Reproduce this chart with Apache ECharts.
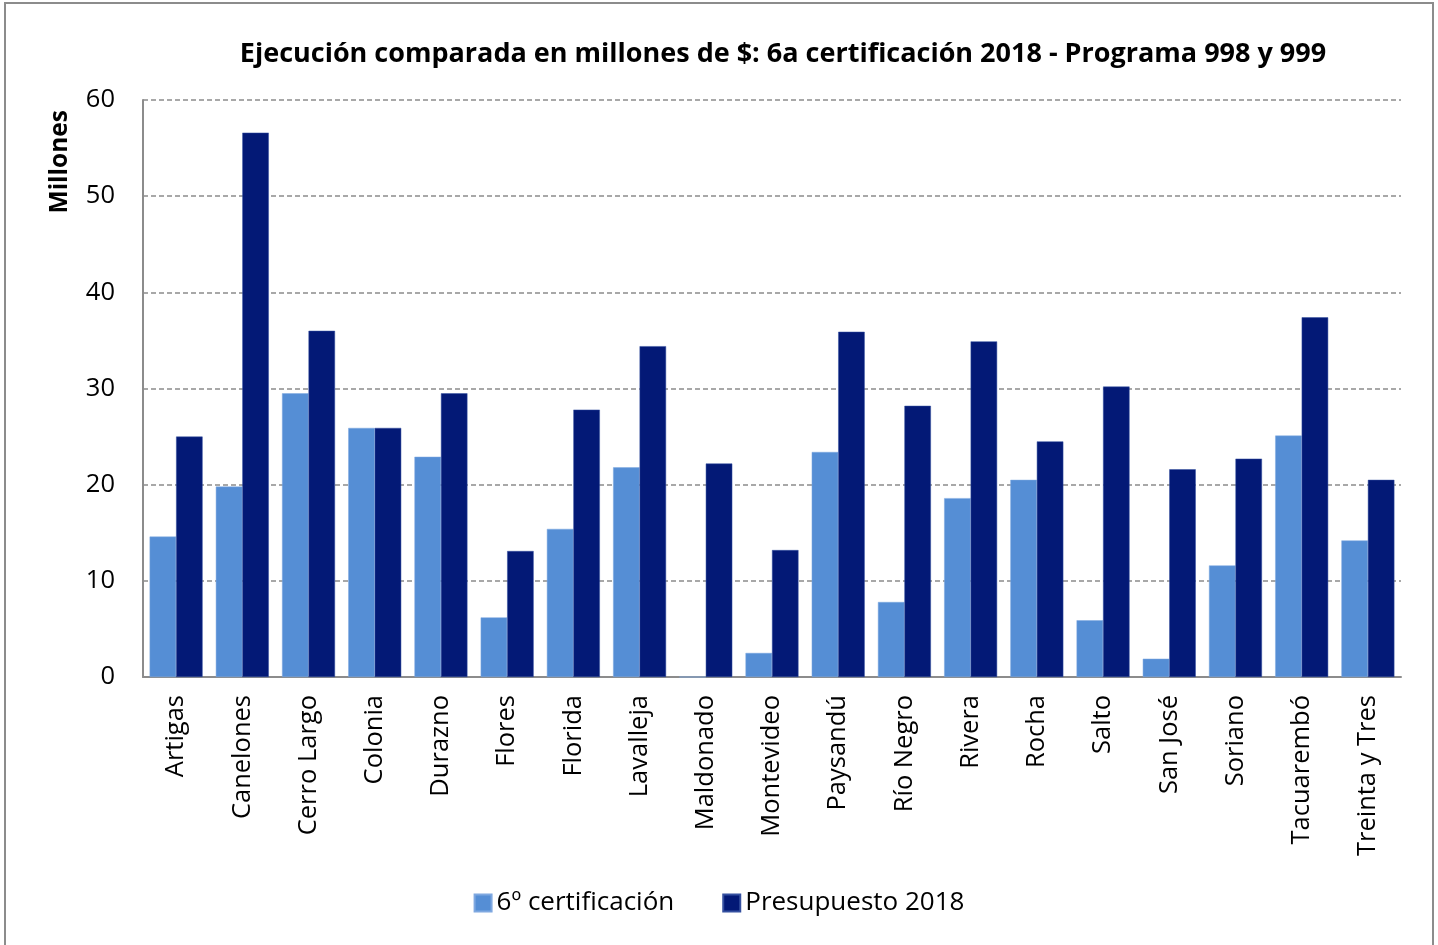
<!DOCTYPE html>
<html>
<head>
<meta charset="utf-8">
<script src="https://cdn.jsdelivr.net/npm/echarts@6/dist/echarts.min.js"></script>
<style>
  html, body { margin: 0; padding: 0; background: #fff; }
  #main { width: 1438px; height: 945px; }
</style>
</head>
<body>
<div id="main"></div>
<script>
// departamentos
var categories = ['Artigas', 'Canelones', 'Cerro Largo', 'Colonia', 'Durazno', 'Flores', 'Florida',
  'Lavalleja', 'Maldonado', 'Montevideo', 'Paysandú', 'Río Negro', 'Rivera', 'Rocha', 'Salto',
  'San José', 'Soriano', 'Tacuarembó', 'Treinta y Tres'];

// 6º certificación (millones)
var certificacion = [14.6, 19.8, 29.5, 25.9, 22.9, 6.2, 15.4, 21.8, 0, 2.5, 23.4, 7.8, 18.6, 20.5, 5.9, 1.9, 11.6, 25.1, 14.2];

// Presupuesto 2018 (millones)
var presupuesto = [25.0, 56.6, 36.0, 25.9, 29.5, 13.1, 27.8, 34.4, 22.2, 13.2, 35.9, 28.2, 34.9, 24.5, 30.2, 21.6, 22.7, 37.4, 20.5];

var yTicks = [0, 10, 20, 30, 40, 50, 60];

var font = '"Open Sans", "Noto Sans", sans-serif';

var chart = echarts.init(document.getElementById('main'), null, { renderer: 'canvas' });

var option = {
  backgroundColor: '#ffffff',
  animation: false,
  color: ['#558ED5', '#031976'],
  title: {
    text: 'Ejecución comparada en millones de $: 6a certificación 2018 - Programa 998 y 999',
    left: 778,
    top: 36,
    textAlign: 'center',
    textStyle: { fontFamily: font, fontSize: 27, fontWeight: 'bold', color: '#000' }
  },
  legend: {
    bottom: 24,
    left: 'center',
    itemWidth: 17,
    itemHeight: 17,
    itemGap: 48,
    icon: 'rect',
    textStyle: { fontFamily: font, fontSize: 26, color: '#000' },
    data: ['6º certificación', 'Presupuesto 2018']
  },
  grid: { left: 143, right: 37, top: 100, bottom: 268 },
  xAxis: {
    type: 'category',
    data: categories,
    axisLine: { lineStyle: { color: '#8c8c8c', width: 2 } },
    axisTick: { show: false },
    axisLabel: {
      rotate: 90,
      interval: 0,
      margin: 18,
      fontFamily: font,
      fontSize: 25.5,
      color: '#000'
    }
  },
  yAxis: {
    type: 'value',
    min: 0,
    max: 60,
    interval: 10,
    name: 'Millones',
    nameLocation: 'end',
    nameRotate: 90,
    nameGap: 0,
    nameTextStyle: {
      fontFamily: font, fontSize: 24.5, fontWeight: 'bold', color: '#000',
      align: 'right', verticalAlign: 'bottom', padding: [0, 10, 70, 0]
    },
    axisLine: { show: true, lineStyle: { color: '#8c8c8c', width: 2 } },
    axisTick: { show: false },
    axisLabel: {
      margin: 28,
      fontFamily: font,
      fontSize: 25.5,
      color: '#000',
      formatter: function (v) { return yTicks.indexOf(v) >= 0 ? String(v) : ''; }
    },
    splitLine: { lineStyle: { color: '#8c8c8c', type: [5, 3], width: 1.5 } }
  },
  series: [
    {
      name: '6º certificación',
      type: 'bar',
      data: certificacion,
      barGap: '0%',
      barCategoryGap: '20%',
      itemStyle: { borderColor: '#7fa8e0', borderWidth: 0.5 }
    },
    {
      name: 'Presupuesto 2018',
      type: 'bar',
      data: presupuesto,
      barGap: '0%',
      barCategoryGap: '20%',
      itemStyle: { borderColor: '#3550a0', borderWidth: 0.5 }
    }
  ],
  graphic: [{
    type: 'rect',
    shape: { x: 5, y: 3, width: 1428, height: 950 },
    style: { fill: null, stroke: '#8c8c8c', lineWidth: 2 },
    silent: true
  }]
};

chart.setOption(option);
</script>
</body>
</html>
